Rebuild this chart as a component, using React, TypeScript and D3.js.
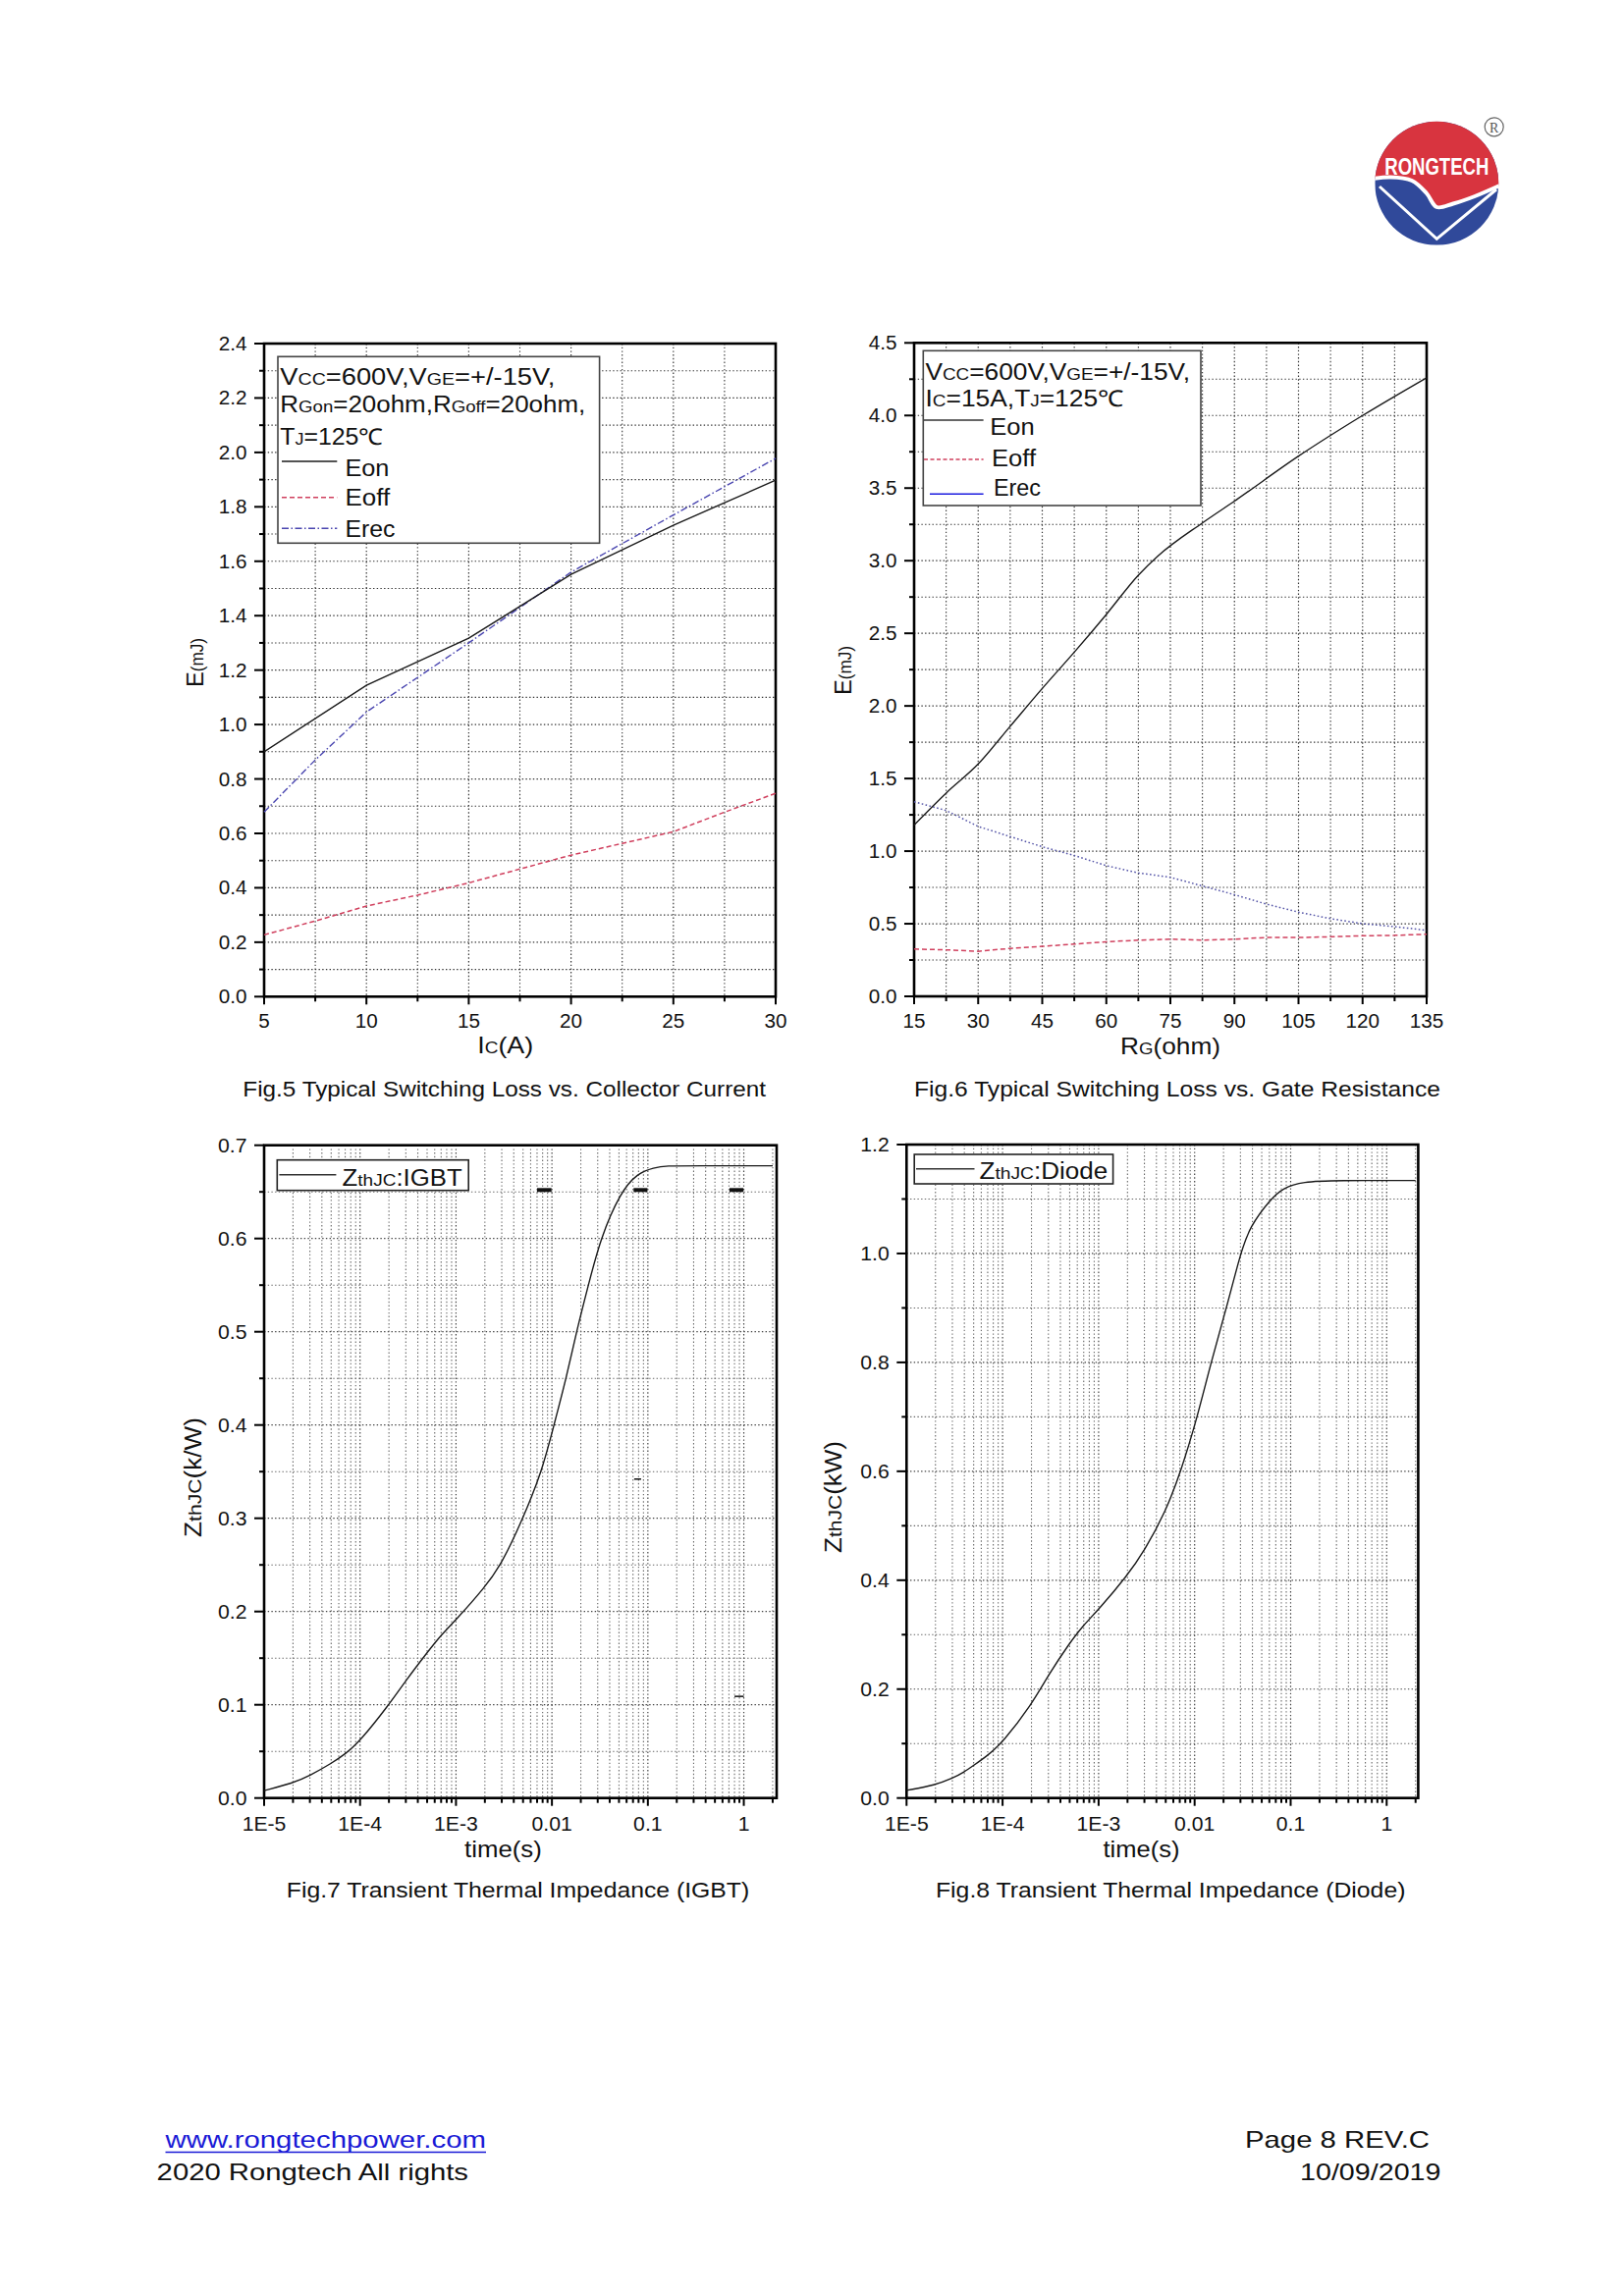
import React from "react";
import * as d3 from "d3";

const FONT = '"Liberation Sans", Arial, Helvetica, sans-serif';

// ---------------- Fig.5 : switching loss vs collector current ----------------
const fig5IcEon = [5, 10, 15, 20, 25, 30];
const fig5Eon = [0.9, 1.144, 1.317, 1.552, 1.732, 1.898];
const fig5IcErec = [5, 7.5, 10, 15, 20, 25, 30];
const fig5Erec = [0.678, 0.87, 1.046, 1.3, 1.56, 1.77, 1.978];
const fig5IcEoff = [5, 7.5, 10, 12.5, 15, 17.5, 20, 22.5, 25, 27.5, 30];
const fig5Eoff = [0.227, 0.278, 0.333, 0.373, 0.418, 0.469, 0.52, 0.563, 0.606, 0.678, 0.747];
const fig5XTicks = [5, 10, 15, 20, 25, 30];
const fig5YTicks = [0, 0.2, 0.4, 0.6, 0.8, 1.0, 1.2, 1.4, 1.6, 1.8, 2.0, 2.2, 2.4];

// ---------------- Fig.6 : switching loss vs gate resistance ----------------
const fig6RgEon = [15, 22.5, 30, 37.5, 45, 52.5, 60, 67.5, 72, 82.5, 90, 105, 120, 135];
const fig6Eon = [1.18, 1.4, 1.6, 1.86, 2.12, 2.37, 2.63, 2.9, 3.03, 3.26, 3.41, 3.72, 4.0, 4.26];
const fig6Rg = [15, 22.5, 30, 37.5, 45, 52.5, 60, 67.5, 75, 82.5, 90, 97.5, 105, 112.5, 120, 127.5, 135];
const fig6Erec = [1.34, 1.28, 1.17, 1.1, 1.03, 0.97, 0.9, 0.85, 0.82, 0.76, 0.7, 0.635, 0.58, 0.535, 0.5, 0.48, 0.455];
const fig6Eoff = [0.326, 0.32, 0.31, 0.33, 0.344, 0.36, 0.376, 0.387, 0.394, 0.387, 0.394, 0.405, 0.405, 0.41, 0.417, 0.42, 0.428];
const fig6XTicks = [15, 30, 45, 60, 75, 90, 105, 120, 135];
const fig6YTicks = [0, 0.5, 1.0, 1.5, 2.0, 2.5, 3.0, 3.5, 4.0, 4.5];

// ---------------- Fig.7 : transient thermal impedance IGBT ----------------
const fig7T = [1e-5, 2e-5, 3e-5, 5e-5, 7e-5, 1e-4, 2e-4, 3e-4, 5e-4, 7e-4, 1e-3, 2e-3, 3e-3, 5e-3, 7.85e-3, 1.05e-2, 1.41e-2, 1.8e-2, 2.4e-2, 3.2e-2, 5.2e-2, 7.8e-2, 0.116, 0.155, 0.3, 2];
const fig7Z = [0.008, 0.016, 0.024, 0.037, 0.047, 0.061, 0.1, 0.126, 0.156, 0.175, 0.191, 0.226, 0.251, 0.3, 0.35, 0.4, 0.45, 0.5, 0.55, 0.6, 0.65, 0.67, 0.676, 0.678, 0.678, 0.678];
const fig7YTicks = [0, 0.1, 0.2, 0.3, 0.4, 0.5, 0.6, 0.7];
// stray marks present in the original figure
const fig7MarkT0 = [0.007, 0.071, 0.71, 0.072, 0.8];
const fig7MarkT1 = [0.0099, 0.099, 0.99, 0.085, 1.0];
const fig7MarkZ = [0.652, 0.652, 0.652, 0.342, 0.109];
const fig7MarkW = [4, 4, 4, 1.5, 1.5];

// ---------------- Fig.8 : transient thermal impedance Diode ----------------
const fig8T = [1e-5, 2e-5, 3e-5, 4e-5, 5e-5, 7e-5, 1e-4, 2e-4, 3e-4, 5e-4, 7e-4, 1e-3, 2e-3, 3e-3, 5e-3, 7.2e-3, 1.07e-2, 1.48e-2, 2.15e-2, 3.0e-2, 3.77e-2, 6.2e-2, 8.3e-2, 0.133, 0.3, 2];
const fig8Z = [0.014, 0.024, 0.036, 0.048, 0.06, 0.078, 0.102, 0.171, 0.226, 0.285, 0.318, 0.346, 0.409, 0.454, 0.526, 0.6, 0.7, 0.8, 0.9, 1.0, 1.05, 1.1, 1.12, 1.132, 1.134, 1.134];
const fig8YTicks = [0, 0.2, 0.4, 0.6, 0.8, 1.0, 1.2];

const logTicks = [1e-5, 1e-4, 1e-3, 1e-2, 1e-1, 1];
const logTickLabels = ["1E-5", "1E-4", "1E-3", "0.01", "0.1", "1"];

const fmt1 = d3.format(".1f");
const zip = (a: number[], b: number[]) => a.map((v, i) => [v, b[i]] as [number, number]);

// ---------------- text helper ----------------
function Txt(p: any) {
  const { x, y, size, anchor = "start", len, sx = 1.06, fill = "#111", weight, rot, children, family = FONT } = p;
  if (rot) {
    return (
      <text transform={`translate(${x},${y}) rotate(-90) scale(1,${sx})`} fontSize={size} textAnchor={anchor}
        fill={fill} fontFamily={family} fontWeight={weight}
        textLength={len} lengthAdjust={len ? "spacingAndGlyphs" : undefined}>{children}</text>
    );
  }
  if (len) {
    return (
      <text x={x} y={y} fontSize={size} textAnchor={anchor} fill={fill} fontFamily={family} fontWeight={weight}
        textLength={len} lengthAdjust="spacingAndGlyphs">{children}</text>
    );
  }
  return (
    <text transform={`translate(${x},${y}) scale(${sx},1)`} fontSize={size} textAnchor={anchor}
      fill={fill} fontFamily={family} fontWeight={weight}>{children}</text>
  );
}
const sub = (s: string, size: number) => <tspan fontSize={size}>{s}</tspan>;

// ---------------- generic axes frame ----------------
function Axes(p: any) {
  const { x, y, x0, x1, y0, y1, xMajor, xMinor, yMajor, yMinor, xLabels, yLabels, xLabelBase, tickFont,
    majorGrid = "#333", minorGrid = "#333" } = p;
  const dash = "1.4 2.3";
  return (
    <g>
      {yMinor.map((v: number, i: number) => (
        <line key={"ym" + i} x1={x0} x2={x1} y1={y(v)} y2={y(v)} stroke={minorGrid} strokeWidth={1.1} strokeDasharray={dash} />
      ))}
      {yMajor.map((v: number, i: number) => (
        <line key={"yM" + i} x1={x0} x2={x1} y1={y(v)} y2={y(v)} stroke={majorGrid} strokeWidth={1.2} strokeDasharray={dash} />
      ))}
      {xMinor.map((v: number, i: number) => (
        <line key={"xm" + i} x1={x(v)} x2={x(v)} y1={y0} y2={y1} stroke={minorGrid} strokeWidth={1.1} strokeDasharray={dash} />
      ))}
      {xMajor.map((v: number, i: number) => (
        <line key={"xM" + i} x1={x(v)} x2={x(v)} y1={y0} y2={y1} stroke={majorGrid} strokeWidth={1.2} strokeDasharray={dash} />
      ))}
      {yMajor.map((v: number, i: number) => (
        <line key={"yt" + i} x1={x0 - 10} x2={x0} y1={y(v)} y2={y(v)} stroke="#000" strokeWidth={2} />
      ))}
      {yMinor.map((v: number, i: number) => (
        <line key={"ymt" + i} x1={x0 - 5} x2={x0} y1={y(v)} y2={y(v)} stroke="#000" strokeWidth={2} />
      ))}
      {xMajor.map((v: number, i: number) => (
        <line key={"xt" + i} x1={x(v)} x2={x(v)} y1={y1} y2={y1 + 8} stroke="#000" strokeWidth={2} />
      ))}
      {xMinor.map((v: number, i: number) => (
        <line key={"xmt" + i} x1={x(v)} x2={x(v)} y1={y1} y2={y1 + 5} stroke="#000" strokeWidth={2} />
      ))}
      <rect x={x0} y={y0} width={x1 - x0} height={y1 - y0} fill="none" stroke="#000" strokeWidth={2.6} />
      {yMajor.map((v: number, i: number) => (
        <Txt key={"yl" + i} x={x0 - 17.5} y={y(v) + 7} size={tickFont} anchor="end">{yLabels[i]}</Txt>
      ))}
      {xMajor.map((v: number, i: number) => (
        <Txt key={"xl" + i} x={x(v)} y={xLabelBase} size={tickFont} anchor="middle">{xLabels[i]}</Txt>
      ))}
    </g>
  );
}

function logMinor(max: number) {
  const out: number[] = [];
  for (let k = -5; k <= 0; k++) for (let m = 2; m <= 9; m++) { const v = m * Math.pow(10, k); if (v <= max) out.push(v); }
  return out;
}

// ---------------- Logo ----------------
const logoWave = [[1392, 183], [1416, 180.5], [1438, 184], [1453, 197], [1463.3, 211], [1480, 207.5], [1502, 200], [1534, 186]];
const logoV = [[1405, 190], [1463.3, 243.3], [1524, 193]];

function Logo() {
  const cx = 1463.3, cy = 186.7, r = 63;
  const wave = d3.line().curve(d3.curveCatmullRom)(logoWave as any) as string;
  const red = wave + `L1534,110L1392,110Z`;
  const v = d3.line()(logoV as any) as string;
  return (
    <g>
      <defs>
        <clipPath id="logoClip"><circle cx={cx} cy={cy} r={r} /></clipPath>
      </defs>
      <g clipPath="url(#logoClip)">
        <rect x={cx - r} y={cy - r} width={2 * r} height={2 * r} fill="#30499a" />
        <path d={red} fill="#d8343f" />
        <path d={wave} fill="none" stroke="#fff" strokeWidth={4} />
        <path d={v} fill="none" stroke="#fff" strokeWidth={3} />
      </g>
      <text x={cx} y={177.5} fontSize={23} fontWeight="bold" fill="#fff" textAnchor="middle" fontFamily={FONT}
        textLength={106} lengthAdjust="spacingAndGlyphs">RONGTECH</text>
      <circle cx={1521.7} cy={129.3} r={9.5} fill="none" stroke="#666" strokeWidth={1.2} />
      <text x={1521.7} y={134.5} fontSize={14} textAnchor="middle" fill="#555" fontFamily='"Liberation Serif", serif'>R</text>
    </g>
  );
}

export default function App() {
  const x5 = d3.scaleLinear().domain([5, 30]).range([269, 790]);
  const y5 = d3.scaleLinear().domain([0, 2.4]).range([1015.3, 350]);
  const x6 = d3.scaleLinear().domain([15, 135]).range([931, 1453]);
  const y6 = d3.scaleLinear().domain([0, 4.5]).range([1015, 349.3]);
  const x7 = d3.scaleLog().domain([1e-5, 2.2]).range([269, 791]);
  const y7 = d3.scaleLinear().domain([0, 0.7]).range([1831.7, 1166.7]);
  const x8 = d3.scaleLog().domain([1e-5, 2.13]).range([923.3, 1444.4]);
  const y8 = d3.scaleLinear().domain([0, 1.2]).range([1831.7, 1166]);

  const l5 = d3.line<[number, number]>().x((d) => x5(d[0])).y((d) => y5(d[1]));
  const l6 = d3.line<[number, number]>().x((d) => x6(d[0])).y((d) => y6(d[1]));
  const l6s = d3.line<[number, number]>().x((d) => x6(d[0])).y((d) => y6(d[1])).curve(d3.curveMonotoneX);
  const l7 = d3.line<[number, number]>().x((d) => x7(d[0])).y((d) => y7(d[1])).curve(d3.curveBasis);
  const l8 = d3.line<[number, number]>().x((d) => x8(d[0])).y((d) => y8(d[1])).curve(d3.curveBasis);

  const f5xMinor = d3.range(7.5, 30, 5);
  const f5yMinor = d3.range(0.1, 2.4, 0.2);
  const f6xMinor = d3.range(22.5, 135, 15);
  const f6yMinor = d3.range(0.25, 4.5, 0.5);
  const f7yMinor = d3.range(0.05, 0.7, 0.1);
  const f8yMinor = d3.range(0.1, 1.2, 0.2);

  const legFont = 23;
  const subF = 16.5;
  const red = "#d0405e";
  const erec5 = "#4a46b0";

  return (
    <svg width={1654} height={2339} style={{ position: "absolute", left: 0, top: 0, background: "#fff" }}
      xmlns="http://www.w3.org/2000/svg">
      <rect x={0} y={0} width={1654} height={2339} fill="#fff" />
      <Logo />

      {/* ================= Fig.5 ================= */}
      <Axes x={x5} y={y5} x0={269} x1={790} y0={350} y1={1015.3}
        xMajor={fig5XTicks} xMinor={f5xMinor} yMajor={fig5YTicks} yMinor={f5yMinor}
        xLabels={fig5XTicks.map(String)} yLabels={fig5YTicks.map(fmt1)} xLabelBase={1047} tickFont={19.5} />
      <path d={l5(zip(fig5IcEoff, fig5Eoff)) as string} fill="none" stroke={red} strokeWidth={1.5} strokeDasharray="5 3" />
      <path d={l5(zip(fig5IcErec, fig5Erec)) as string} fill="none" stroke={erec5} strokeWidth={1.4} strokeDasharray="7 2.5 1.5 2.5" />
      <path d={l5(zip(fig5IcEon, fig5Eon)) as string} fill="none" stroke="#1a1a1a" strokeWidth={1.4} />
      <rect x={283} y={363.3} width={327.6} height={190} fill="#fff" stroke="#444" strokeWidth={1.6} />
      <Txt x={285.3} y={391.5} size={legFont} len={280}>V{sub("CC", subF)}=600V,V{sub("GE", subF)}=+/-15V,</Txt>
      <Txt x={285.3} y={420} size={legFont} len={311}>R{sub("Gon", subF)}=20ohm,R{sub("Goff", subF)}=20ohm,</Txt>
      <Txt x={285.3} y={453} size={legFont} len={105}>T{sub("J", subF)}=125℃</Txt>
      <line x1={287} x2={343.3} y1={470} y2={470} stroke="#1a1a1a" strokeWidth={1.4} />
      <Txt x={351.4} y={484.5} size={legFont} len={45}>Eon</Txt>
      <line x1={287} x2={343.3} y1={506.7} y2={506.7} stroke={red} strokeWidth={1.5} strokeDasharray="5 3" />
      <Txt x={351.4} y={514.5} size={legFont} len={45.7}>Eoff</Txt>
      <line x1={287} x2={343.3} y1={538.3} y2={538.3} stroke={erec5} strokeWidth={1.4} strokeDasharray="7 2.5 1.5 2.5" />
      <Txt x={351.4} y={546.5} size={legFont} len={51}>Erec</Txt>
      <Txt x={514.7} y={1072.5} size={24} anchor="middle" len={57}>I{sub("C", 17)}(A)</Txt>
      <Txt x={207} y={675} size={22} anchor="middle" rot len={50} sx={1.12}>E{sub("(mJ)", 16)}</Txt>
      <Txt x={513.7} y={1117} size={22} anchor="middle" len={532.7}>Fig.5 Typical Switching Loss vs. Collector Current</Txt>

      {/* ================= Fig.6 ================= */}
      <Axes x={x6} y={y6} x0={931} x1={1453} y0={349.3} y1={1015}
        xMajor={fig6XTicks} xMinor={f6xMinor} yMajor={fig6YTicks} yMinor={f6yMinor}
        xLabels={fig6XTicks.map(String)} yLabels={fig6YTicks.map(fmt1)} xLabelBase={1047} tickFont={19.5} />
      <path d={l6(zip(fig6Rg, fig6Eoff)) as string} fill="none" stroke={red} strokeWidth={1.5} strokeDasharray="5 3" />
      <path d={l6(zip(fig6Rg, fig6Erec)) as string} fill="none" stroke="#5656a8" strokeWidth={1.5} strokeDasharray="1.6 2.4" />
      <path d={l6s(zip(fig6RgEon, fig6Eon)) as string} fill="none" stroke="#1a1a1a" strokeWidth={1.4} />
      <rect x={940.3} y={357.3} width={282.7} height={157.7} fill="#fff" stroke="#444" strokeWidth={1.6} />
      <Txt x={942.5} y={386.5} size={legFont} len={269.5}>V{sub("CC", subF)}=600V,V{sub("GE", subF)}=+/-15V,</Txt>
      <Txt x={942.5} y={413.5} size={legFont} len={202}>I{sub("C", subF)}=15A,T{sub("J", subF)}=125℃</Txt>
      <line x1={941} x2={1001.6} y1={428} y2={428} stroke="#333" strokeWidth={1.5} />
      <Txt x={1008.3} y={443} size={legFont} len={45.4}>Eon</Txt>
      <line x1={941} x2={1001.6} y1={468} y2={468} stroke={red} strokeWidth={1.5} strokeDasharray="4 2.5" />
      <Txt x={1010} y={474.5} size={legFont} len={45}>Eoff</Txt>
      <line x1={947} x2={1001.6} y1={503.3} y2={503.3} stroke="#1c1ce0" strokeWidth={1.6} />
      <Txt x={1012} y={504.5} size={legFont} len={48}>Erec</Txt>
      <Txt x={1192} y={1074} size={24} anchor="middle" len={102}>R{sub("G", 17)}(ohm)</Txt>
      <Txt x={867} y={683} size={22} anchor="middle" rot len={50} sx={1.12}>E{sub("(mJ)", 16)}</Txt>
      <Txt x={1199} y={1117} size={22} anchor="middle" len={536}>Fig.6 Typical Switching Loss vs. Gate Resistance</Txt>

      {/* ================= Fig.7 ================= */}
      <Axes x={x7} y={y7} x0={269} x1={791} y0={1166.7} y1={1831.7}
        xMajor={logTicks} xMinor={logMinor(2.2)} yMajor={fig7YTicks} yMinor={f7yMinor}
        xLabels={logTickLabels} yLabels={fig7YTicks.map(fmt1)} xLabelBase={1865} tickFont={20}
        majorGrid="#444" minorGrid="#666" />
      {fig7MarkT0.map((t, i) => (
        <line key={"mk" + i} x1={x7(t)} x2={x7(fig7MarkT1[i])} y1={y7(fig7MarkZ[i])} y2={y7(fig7MarkZ[i])}
          stroke="#111" strokeWidth={fig7MarkW[i]} />
      ))}
      <path d={l7(zip(fig7T, fig7Z)) as string} fill="none" stroke="#1a1a1a" strokeWidth={1.4} />
      <rect x={282.3} y={1181.7} width={194.9} height={31} fill="#fff" stroke="#222" strokeWidth={1.6} />
      <line x1={284.4} x2={342.4} y1={1196.7} y2={1196.7} stroke="#333" strokeWidth={1.5} />
      <Txt x={348.6} y={1208.3} size={legFont} len={122}>Z{sub("thJC", 17)}:IGBT</Txt>
      <Txt x={512.4} y={1892} size={24} anchor="middle" len={78.8}>time(s)</Txt>
      <Txt x={205} y={1505} size={21} anchor="middle" rot len={122} sx={1.12}>Z{sub("thJC", 17)}(k/W)</Txt>
      <Txt x={527.5} y={1933.3} size={22} anchor="middle" len={471.4}>Fig.7 Transient Thermal Impedance (IGBT)</Txt>

      {/* ================= Fig.8 ================= */}
      <Axes x={x8} y={y8} x0={923.3} x1={1444.4} y0={1166} y1={1831.7}
        xMajor={logTicks} xMinor={logMinor(2.13)} yMajor={fig8YTicks} yMinor={f8yMinor}
        xLabels={logTickLabels} yLabels={fig8YTicks.map(fmt1)} xLabelBase={1865} tickFont={20}
        majorGrid="#444" minorGrid="#666" />
      <path d={l8(zip(fig8T, fig8Z)) as string} fill="none" stroke="#1a1a1a" strokeWidth={1.4} />
      <rect x={931.2} y={1176} width={202.4} height={30} fill="#fff" stroke="#222" strokeWidth={1.6} />
      <line x1={933} x2={992.5} y1={1190.7} y2={1190.7} stroke="#333" strokeWidth={1.5} />
      <Txt x={997.6} y={1200.7} size={legFont} len={130.5}>Z{sub("thJC", 17)}:Diode</Txt>
      <Txt x={1162.5} y={1892} size={24} anchor="middle" len={78}>time(s)</Txt>
      <Txt x={857} y={1525} size={21} anchor="middle" rot len={114} sx={1.12}>Z{sub("thJC", 17)}(kW)</Txt>
      <Txt x={1192.2} y={1933.3} size={22} anchor="middle" len={478.4}>Fig.8 Transient Thermal Impedance (Diode)</Txt>

      {/* ================= Footer ================= */}
      <Txt x={168.5} y={2188} size={24} len={326.5} fill="#1a1ad6">www.rongtechpower.com</Txt>
      <line x1={168.5} x2={495} y1={2192.5} y2={2192.5} stroke="#1a1ad6" strokeWidth={1.6} />
      <Txt x={159.6} y={2220.5} size={24} len={317.4}>2020 Rongtech All rights</Txt>
      <Txt x={1456} y={2188} size={24} anchor="end" len={188}>Page 8 REV.C</Txt>
      <Txt x={1467.5} y={2220.5} size={24} anchor="end" len={143.5}>10/09/2019</Txt>
    </svg>
  );
}
